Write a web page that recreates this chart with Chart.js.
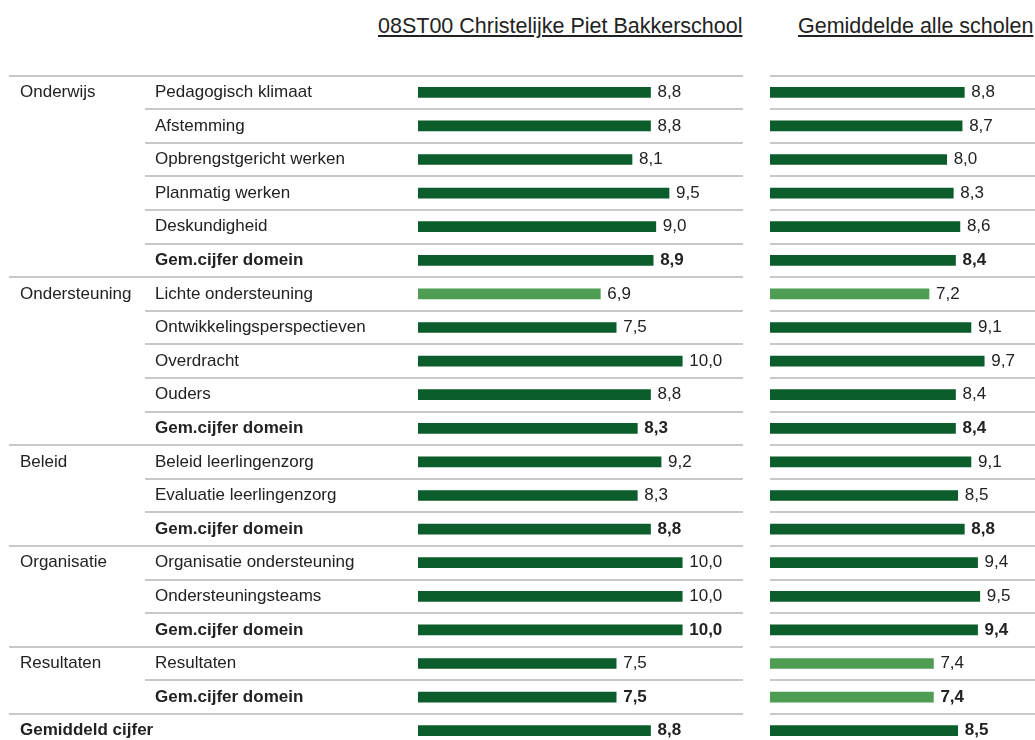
<!DOCTYPE html>
<html>
<head>
<meta charset="utf-8">
<script src="https://cdn.jsdelivr.net/npm/chart.js@4/dist/chart.umd.min.js"></script>
<style>
  html, body { margin: 0; padding: 0; background: #fff; overflow: hidden; }
  body { width: 1035px; height: 740px; position: relative; }
  .title {
    position: absolute; top: 16px; line-height: 21.5px;
    font-family: "Liberation Sans", Arial, sans-serif; font-size: 21.5px;
    color: #222; text-decoration: underline; white-space: nowrap;
  }
  #left { position: absolute; left: 0; top: 0; }
  #right { position: absolute; left: 745px; top: 0; }
</style>
</head>
<body>
<div class="title" style="left:378px">08ST00 Christelijke Piet Bakkerschool</div>
<div class="title" style="left:798px">Gemiddelde alle scholen</div>
<canvas id="left" width="745" height="750"></canvas>
<canvas id="right" width="290" height="750"></canvas>
<script>
const labels = [
  "Pedagogisch klimaat", "Afstemming", "Opbrengstgericht werken", "Planmatig werken",
  "Deskundigheid", "Gem.cijfer domein",
  "Lichte ondersteuning", "Ontwikkelingsperspectieven", "Overdracht", "Ouders", "Gem.cijfer domein",
  "Beleid leerlingenzorg", "Evaluatie leerlingenzorg", "Gem.cijfer domein",
  "Organisatie ondersteuning", "Ondersteuningsteams", "Gem.cijfer domein",
  "Resultaten", "Gem.cijfer domein",
  ""
];
const domainLabels = ["Onderwijs", "Ondersteuning", "Beleid", "Organisatie", "Resultaten", "Gemiddeld cijfer"];
const domainRows = [0, 6, 11, 14, 17, 19];
const schoolValues = [8.8, 8.8, 8.1, 9.5, 9.0, 8.9, 6.9, 7.5, 10.0, 8.8, 8.3, 9.2, 8.3, 8.8, 10.0, 10.0, 10.0, 7.5, 7.5, 8.8];
const averageValues = [8.8, 8.7, 8.0, 8.3, 8.6, 8.4, 7.2, 9.1, 9.7, 8.4, 8.4, 9.1, 8.5, 8.8, 9.4, 9.5, 9.4, 7.4, 7.4, 8.5];

const FONT = '"Liberation Sans", Arial, sans-serif';
const DARK = "#0b5e2b";
const LIGHT = "#4f9d52";
const lastRow = labels.length - 1;
const isBold = (i) => labels[i] === "Gem.cijfer domein" || i === lastRow;
const colorFor = (v) => (v < 7.5 ? LIGHT : DARK);
const fmt = (v) => v.toFixed(1).replace(".", ",");

// horizontal separators between the rows
const rowLines = {
  id: "rowLines",
  beforeDatasetsDraw(chart, args, opts) {
    const { ctx, chartArea, scales } = chart;
    const y = scales.y;
    const half = (y.getPixelForValue(1) - y.getPixelForValue(0)) / 2;
    ctx.save();
    ctx.strokeStyle = "#c8c8c8";
    ctx.lineWidth = 2;
    labels.forEach((l, i) => {
      const py = Math.round(y.getPixelForValue(i) - half);
      let x0 = chartArea.left;
      if (opts.full) x0 = domainRows.includes(i) ? 9 : 145;
      ctx.beginPath();
      ctx.moveTo(x0, py);
      ctx.lineTo(chartArea.right, py);
      ctx.stroke();
    });
    ctx.restore();
  },
};

// value next to every bar
const valueLabels = {
  id: "valueLabels",
  afterDatasetsDraw(chart) {
    const { ctx } = chart;
    const meta = chart.getDatasetMeta(0);
    const data = chart.data.datasets[0].data;
    ctx.save();
    ctx.fillStyle = "#222";
    ctx.textBaseline = "middle";
    ctx.textAlign = "left";
    meta.data.forEach((bar, i) => {
      ctx.font = (isBold(i) ? "bold " : "") + "17px " + FONT;
      ctx.fillText(fmt(data[i]), bar.x + 7, bar.y);
    });
    ctx.restore();
  },
};

// domain names in the first column
const domainColumn = {
  id: "domainColumn",
  afterDraw(chart) {
    const { ctx, scales } = chart;
    ctx.save();
    ctx.fillStyle = "#222";
    ctx.textBaseline = "middle";
    ctx.textAlign = "left";
    domainLabels.forEach((d, k) => {
      const row = domainRows[k];
      ctx.font = (row === lastRow ? "bold " : "") + "17px " + FONT;
      ctx.fillText(d, 20, scales.y.getPixelForValue(row));
    });
    ctx.restore();
  },
};

function makeChart(id, values, xMax, withLabels) {
  return new Chart(document.getElementById(id), {
    type: "bar",
    data: {
      labels: labels,
      datasets: [{
        data: values,
        backgroundColor: values.map(colorFor),
        barThickness: 10,
        borderWidth: 0,
      }],
    },
    options: {
      indexAxis: "y",
      responsive: false,
      animation: false,
      events: [],
      layout: {
        padding: withLabels
          ? { left: 155, right: 2, top: 75.5, bottom: 2.5 }
          : { left: 25, right: 0, top: 75.5, bottom: 2.5 },
      },
      scales: {
        x: { display: false, min: 0, max: xMax },
        y: {
          display: withLabels,
          grid: { display: false },
          border: { display: false },
          afterFit: (scale) => {
            if (!withLabels) return;
            scale.width = 263;
            scale.paddingTop = 0;
            scale.paddingBottom = 0;
          },
          ticks: {
            crossAlign: "far",
            padding: 0,
            color: "#222",
            font: (c) => ({ family: FONT, size: 17, weight: isBold(c.index) ? "bold" : "normal" }),
          },
        },
      },
      plugins: {
        legend: { display: false },
        tooltip: { enabled: false },
        rowLines: { full: withLabels },
      },
    },
    plugins: withLabels ? [rowLines, valueLabels, domainColumn] : [rowLines, valueLabels],
  });
}

makeChart("left", schoolValues, 12.3, true);
makeChart("right", averageValues, 12.0, false);
</script>
</body>
</html>
